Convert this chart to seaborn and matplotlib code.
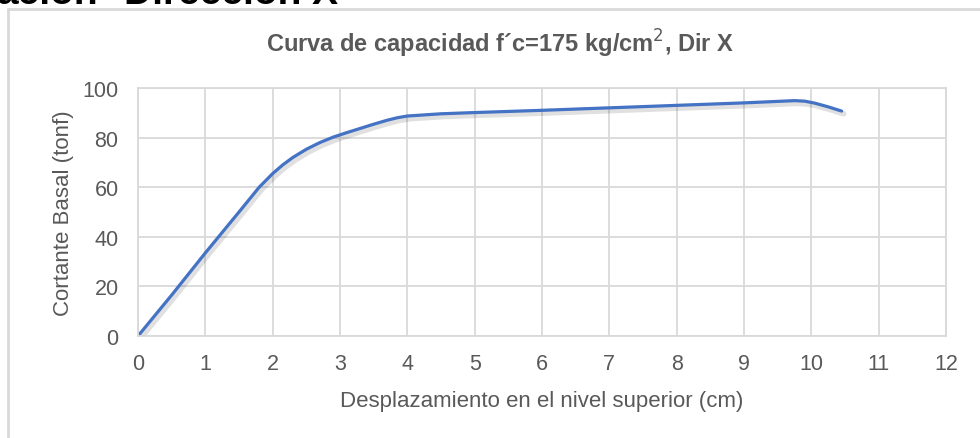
import matplotlib
matplotlib.use("Agg")
import matplotlib.pyplot as plt
import matplotlib.patheffects as pe
from matplotlib.lines import Line2D
import pandas as pd
import seaborn as sns

# Curve points (cm, tonf)
desplazamiento = [0.0, 0.5, 1.0, 1.5, 1.8, 2.0, 2.15, 2.3, 2.5, 2.7, 2.9, 3.1, 3.3, 3.5,
                  3.7, 3.85, 4.0, 4.5, 5.0, 6.0, 7.0, 8.0, 9.0, 9.5, 9.75, 9.9, 10.05,
                  10.25, 10.45]
cortante = [0.0, 16.5, 33.5, 50.0, 60.0, 65.5, 69.0, 72.0, 75.3, 78.0, 80.2, 82.0, 83.7, 85.4,
            87.0, 88.0, 88.7, 89.6, 90.1, 91.0, 92.0, 93.0, 94.0, 94.6, 94.9, 94.7, 93.9,
            92.4, 90.7]
x_ticks = list(range(0, 13))
y_ticks = [0, 20, 40, 60, 80, 100]

df = pd.DataFrame({"desplazamiento": desplazamiento, "cortante": cortante})

sns.set_style("white")
plt.rcParams["font.family"] = ["Liberation Sans", "DejaVu Sans"]

grid_col = "#d9d9d9"
text_col = "#595959"

fig = plt.figure(figsize=(9.8, 4.39), dpi=100)
ax = fig.add_axes([138 / 980, 102 / 439, 808 / 980, 248 / 439])

sns.lineplot(data=df, x="desplazamiento", y="cortante", sort=False, estimator=None,
             color="#4472C4", linewidth=2.3, ax=ax,
             path_effects=[pe.SimpleLineShadow(offset=(1.5, -2), alpha=0.12, linewidth=4),
                           pe.Normal()])

ax.set_xlim(0, 12)
ax.set_ylim(0, 100)
ax.set_xticks(x_ticks)
ax.set_yticks(y_ticks)
ax.grid(True, color=grid_col, linewidth=1.3)
ax.set_axisbelow(True)
for s in ax.spines.values():
    s.set_color(grid_col)
    s.set_linewidth(1.3)
ax.tick_params(length=0, labelsize=15.5, colors=text_col)
ax.tick_params(axis="x", pad=12)
ax.tick_params(axis="y", pad=14)

ax.set_xlabel("Desplazamiento en el nivel superior (cm)", fontsize=16, color=text_col, labelpad=12)
ax.set_ylabel("Cortante Basal (tonf)", fontsize=16, color=text_col, labelpad=6)

fig.text(0.5 * (263 + 737) / 980, 1 - 44 / 439, "Curva de capacidad f´c=175 kg/cm$^{2}$, Dir X",
         ha="center", va="center", fontsize=17, fontweight="bold", color=text_col)

# clipped heading from the page above the chart
fig.text(-3 / 980, 1 - 4 / 439, "ación", ha="left", va="baseline",
         fontsize=28, fontweight="bold", color="black")
fig.text(124 / 980, 1 - 4 / 439, "Dirección X", ha="left", va="baseline",
         fontsize=28, fontweight="bold", color="black")

# chart frame
fig.add_artist(Line2D([8 / 980, 8 / 980], [0, 1 - 10 / 439], color=grid_col, linewidth=2))
fig.add_artist(Line2D([8 / 980, 1], [1 - 10 / 439, 1 - 10 / 439], color=grid_col, linewidth=2))

fig.savefig("out.png", dpi=100, facecolor="white")
